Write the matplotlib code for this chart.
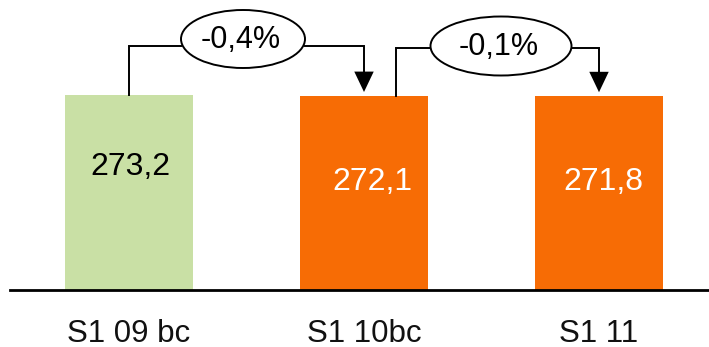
import matplotlib
matplotlib.use("Agg")
import matplotlib.pyplot as plt
from matplotlib.patches import Ellipse, FancyArrowPatch

# Data
periods = ["S1 09 bc", "S1 10bc", "S1 11"]
values = [273.2, 272.1, 271.8]
value_labels = ["273,2", "272,1", "271,8"]
change_labels = ["-0,4%", "-0,1%"]

bar_colors = ["#C9E0A5", "#F76C05", "#F76C05"]
label_colors = ["#000000", "#FFFFFF", "#FFFFFF"]

plt.rcParams["font.family"] = ["Liberation Sans", "DejaVu Sans"]

W, H = 709, 347
fig = plt.figure(figsize=(W / 100, H / 100), dpi=100)
base_px = 290
ax = fig.add_axes([10 / W, 1 - base_px / H, 1 - 10 / W, base_px / H])

px_per_x = 235.0
px_per_y = 195.0 / values[0]
ax.set_xlim((10 - 129) / px_per_x, (W - 129) / px_per_x)
ax.set_ylim(0, base_px / px_per_y)

xs = list(range(len(values)))
ax.bar(xs, values, width=128 / px_per_x, color=bar_colors, zorder=2)

# Value labels inside the bars
label_frac = [0.63, 0.555, 0.555]
label_dx = [0.004, 0.036, 0.017]
for x, v, t, c, f, dx in zip(xs, values, value_labels, label_colors, label_frac, label_dx):
    ax.text(x + dx, v * f, t, ha="center", va="center", fontsize=23, color=c, zorder=3)

# Baseline and category labels
for s in ["top", "right", "left"]:
    ax.spines[s].set_visible(False)
ax.spines["bottom"].set_linewidth(2)
ax.spines["bottom"].set_color("#000000")
ax.set_yticks([])
ax.set_xticks(xs)
ax.set_xticklabels([])
ax.tick_params(axis="x", length=0)
for x, p in zip(xs, periods):
    ax.text(x, -(341.5 - base_px) / px_per_y, p, ha="center", va="baseline",
            fontsize=22.5, color="#111111", clip_on=False)

# Change connectors between consecutive bars
bracket_px = [46, 48]
start_dx_px = [0, 31.5]
ell_center_px = [(243, 39), (501, 46)]
ell_size_px = [(124, 58), (141, 59)]
lw = 1.4
for i, lab in enumerate(change_labels):
    y_b = (base_px - bracket_px[i]) / px_per_y
    x0 = xs[i] + start_dx_px[i] / px_per_x
    x1 = xs[i + 1]
    ecx = (ell_center_px[i][0] - 129) / px_per_x
    ecy = (base_px - ell_center_px[i][1]) / px_per_y
    ew = ell_size_px[i][0] / px_per_x
    eh = ell_size_px[i][1] / px_per_y
    # left leg + line into ellipse
    ax.plot([x0, x0, ecx - ew / 2], [values[i], y_b, y_b], color="black", lw=lw,
            solid_joinstyle="miter", zorder=3, clip_on=False)
    # line out of ellipse and arrow down to the next bar
    ax.plot([ecx + ew / 2, x1, x1], [y_b, y_b, values[i + 1] + 14 / px_per_y],
            color="black", lw=lw, solid_joinstyle="miter", zorder=3, clip_on=False)
    arr = FancyArrowPatch((x1, values[i + 1] + 16 / px_per_y), (x1, values[i + 1] + 1 / px_per_y),
                          arrowstyle="-|>,head_length=1.05,head_width=0.5",
                          mutation_scale=14, color="black", lw=0, zorder=4)
    ax.add_patch(arr)
    ax.add_patch(Ellipse((ecx, ecy), ew, eh, facecolor="white", edgecolor="black",
                         lw=lw, zorder=4, clip_on=False))
    ax.text(ecx - 2 / px_per_x, ecy - 1 / px_per_y, lab, ha="center", va="center",
            fontsize=22, color="black", zorder=5)

fig.savefig("out.png", dpi=100)
